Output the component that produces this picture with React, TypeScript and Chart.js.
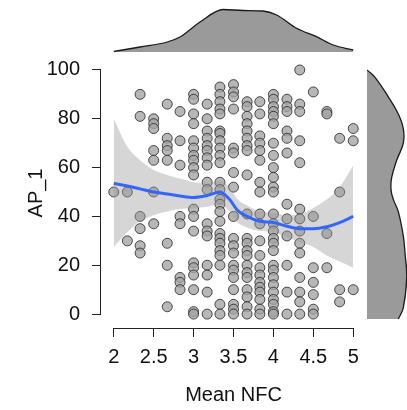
import React, { useEffect, useRef } from "react";
import { Chart, registerables } from "chart.js";

Chart.register(...registerables);

// Mean NFC levels (steps of 1/6) and the AP_1 scores observed at each level
const nfcLevels = [2, 2.17, 2.33, 2.5, 2.67, 2.83, 3, 3.17, 3.33, 3.5, 3.67, 3.83, 4, 4.17, 4.33, 4.5, 4.67, 4.83, 5];
const apAtLevel: number[][] = [
  [50],
  [50, 30],
  [90, 81, 40, 35, 28, 25],
  [80, 78, 76, 67, 63, 50, 37],
  [86, 72, 69, 67, 63, 29, 20, 3],
  [83, 71, 61, 40, 37, 15, 13, 10],
  [90, 88, 82, 78, 71, 68, 65, 63, 60, 57, 43, 40, 34, 21, 19, 16, 10, 1, 0],
  [86, 80, 75, 72, 69, 67, 64, 61, 54, 51, 37, 34, 32, 20, 16, 9, 0],
  [93, 90, 87, 84, 82, 75, 74, 71, 68, 65, 62, 54, 51, 47, 45, 42, 38, 33, 31, 29, 26, 24, 20, 4, 0],
  [94, 91, 89, 84, 68, 66, 58, 52, 40, 31, 28, 25, 20, 18, 15, 10, 4, 2, 0],
  [87, 85, 81, 78, 75, 72, 69, 67, 57, 41, 31, 29, 26, 24, 20, 17, 15, 10, 7, 3, 0],
  [87, 82, 73, 70, 67, 63, 54, 50, 41, 37, 30, 24, 19, 16, 13, 11, 9, 6, 2, 0],
  [90, 88, 85, 83, 81, 78, 70, 65, 60, 56, 52, 50, 41, 37, 34, 31, 29, 26, 20, 18, 15, 12, 9, 6, 4, 1, 0],
  [88, 85, 83, 75, 72, 66, 45, 39, 32, 20, 9, 0],
  [100, 86, 83, 71, 62, 43, 39, 34, 29, 25, 15, 9, 5, 0],
  [91, 40, 19, 13, 8, 2, 0],
  [83, 82, 33, 19],
  [72, 50, 10, 5],
  [76, 71, 10],
];

// Loess fit with its confidence band
const smoothX = [2, 2.17, 2.33, 2.5, 2.67, 2.83, 3, 3.17, 3.33, 3.45, 3.55, 3.67, 3.83, 4, 4.17, 4.33, 4.5, 4.67, 4.83, 5];
const smoothFit = [53.5, 52.5, 51.3, 50, 49.2, 48.4, 47.8, 48.6, 50, 47, 42.5, 40, 38, 37.5, 36, 35, 35, 35.8, 37.5, 40];
const smoothLower = [27.5, 33.5, 38, 40.5, 42, 43, 43.5, 44, 45, 42, 37.5, 35.5, 34, 33.5, 31.5, 29.5, 27.5, 24, 21.5, 19];
const smoothUpper = [80, 68.5, 63, 59, 57, 55.5, 54, 53.5, 54.5, 52, 47, 44.5, 42, 41.5, 40.5, 41, 43.5, 47, 52, 61];

// Marginal density of Mean NFC (top)
const nfcDensX = [2, 2.33, 2.67, 2.83, 3.08, 3.37, 3.62, 3.87, 4.04, 4.29, 4.54, 4.75, 5];
const nfcDensY = [0.005, 0.05, 0.1, 0.15, 0.3, 0.425, 0.415, 0.41, 0.37, 0.237, 0.153, 0.07, 0.02];

// Marginal density of AP_1 (right)
const apDensAP = [100, 97, 89, 82, 76, 70, 63, 56, 51, 47, 42, 32, 25, 15, 2.5, -2];
const apDensY = [0, 0.08, 0.213, 0.313, 0.363, 0.363, 0.297, 0.247, 0.24, 0.263, 0.313, 0.363, 0.38, 0.397, 0.363, 0.313];

const xTicks = [2, 2.5, 3, 3.5, 4, 4.5, 5];
const yTicks = [0, 20, 40, 60, 80, 100];

const W = 407;
const H = 410;
const FONT = "'Liberation Sans', Arial, Helvetica, sans-serif";
const X_MIN = 1.84;
const X_MAX = 5.16;
const Y_MIN = -5.7;
const Y_MAX = 104.9;

// Axis lines that run only between the first and last tick
const rangeAxisLines = {
  id: "rangeAxisLines",
  afterDraw(chart: any) {
    const { ctx, chartArea, scales } = chart;
    const x = scales.x;
    const y = scales.y;
    ctx.save();
    ctx.strokeStyle = "#222";
    ctx.lineWidth = 1;
    ctx.beginPath();
    const yb = Math.round(chartArea.bottom) + 0.5;
    ctx.moveTo(x.getPixelForValue(xTicks[0]), yb);
    ctx.lineTo(x.getPixelForValue(xTicks[xTicks.length - 1]), yb);
    const xl = Math.round(chartArea.left) - 0.5;
    ctx.moveTo(xl, y.getPixelForValue(yTicks[0]));
    ctx.lineTo(xl, y.getPixelForValue(yTicks[yTicks.length - 1]));
    ctx.stroke();
    ctx.restore();
  },
};

const hiddenPlugins = { legend: { display: false }, tooltip: { enabled: false } };

export default function App() {
  const mainRef = useRef<HTMLCanvasElement>(null);
  const topRef = useRef<HTMLCanvasElement>(null);
  const rightRef = useRef<HTMLCanvasElement>(null);

  useEffect(() => {
    const points: { x: number; y: number }[] = [];
    nfcLevels.forEach((lvl, i) => apAtLevel[i].forEach((v) => points.push({ x: lvl, y: v })));
    const xy = (xs: number[], ys: number[]) => xs.map((x, i) => ({ x, y: ys[i] }));

    const main = new Chart(mainRef.current!, {
      type: "scatter",
      data: {
        datasets: [
          {
            type: "line",
            data: xy(smoothX, smoothFit),
            borderColor: "#3366FF",
            borderWidth: 3,
            pointRadius: 0,
            fill: false,
            cubicInterpolationMode: "monotone",
            order: 0,
          } as any,
          {
            type: "line",
            data: xy(smoothX, smoothUpper),
            borderWidth: 0,
            borderColor: "rgba(0,0,0,0)",
            pointRadius: 0,
            fill: "+1",
            backgroundColor: "rgba(153,153,153,0.4)",
            cubicInterpolationMode: "monotone",
            order: 1,
          } as any,
          {
            type: "line",
            data: xy(smoothX, smoothLower),
            borderWidth: 0,
            borderColor: "rgba(0,0,0,0)",
            pointRadius: 0,
            fill: false,
            cubicInterpolationMode: "monotone",
            order: 1,
          } as any,
          {
            data: points,
            pointRadius: 5,
            pointBackgroundColor: "rgba(165,165,165,0.8)",
            pointBorderColor: "rgba(35,35,35,0.8)",
            pointBorderWidth: 1,
            order: 2,
          } as any,
        ],
      },
      options: {
        responsive: false,
        animation: false,
        devicePixelRatio: 1,
        layout: { padding: { left: 0, right: 41, top: 58, bottom: 0 } },
        plugins: hiddenPlugins,
        scales: {
          x: {
            type: "linear",
            min: X_MIN,
            max: X_MAX,
            afterBuildTicks: (s: any) => {
              s.ticks = xTicks.map((v) => ({ value: v }));
            },
            afterFit: (s: any) => {
              s.height = 82;
            },
            ticks: {
              callback: (v: any) => String(v),
              font: { family: FONT, size: 20 },
              color: "#111",
              padding: 8,
              maxRotation: 0,
              autoSkip: false,
            },
            grid: { drawOnChartArea: false, drawTicks: true, tickLength: 9, color: "#222", lineWidth: 1 },
            border: { display: false },
            title: {
              display: true,
              text: "Mean NFC",
              font: { family: FONT, size: 20 },
              color: "#111",
              padding: { top: 0, bottom: 3 },
            },
          },
          y: {
            type: "linear",
            min: Y_MIN,
            max: Y_MAX,
            afterBuildTicks: (s: any) => {
              s.ticks = yTicks.map((v) => ({ value: v }));
            },
            afterFit: (s: any) => {
              s.width = 101;
            },
            ticks: {
              callback: (v: any) => String(v),
              font: { family: FONT, size: 20 },
              color: "#111",
              padding: 12,
              autoSkip: false,
            },
            grid: { drawOnChartArea: false, drawTicks: true, tickLength: 9, color: "#222", lineWidth: 1 },
            border: { display: false },
            title: {
              display: true,
              text: "AP_1",
              font: { family: FONT, size: 20 },
              color: "#111",
              padding: { top: 24, bottom: 0 },
            },
          },
        },
      },
      plugins: [rangeAxisLines],
    } as any);

    const top = new Chart(topRef.current!, {
      type: "line",
      data: {
        datasets: [
          {
            data: xy(nfcDensX, nfcDensY),
            fill: "origin",
            backgroundColor: "#9a9a9a",
            borderColor: "#1a1a1a",
            borderWidth: 1.3,
            pointRadius: 0,
            cubicInterpolationMode: "monotone",
          },
        ],
      },
      options: {
        responsive: false,
        animation: false,
        devicePixelRatio: 1,
        layout: { padding: { left: 101, right: 41, top: 0, bottom: 358 } },
        plugins: hiddenPlugins,
        scales: {
          x: { type: "linear", min: X_MIN, max: X_MAX, display: false },
          y: { type: "linear", min: 0, max: 0.52, display: false },
        },
      },
    } as any);

    const right = new Chart(rightRef.current!, {
      type: "line",
      data: {
        datasets: [
          {
            data: apDensAP.map((a, i) => ({ x: apDensY[i], y: a })),
            fill: "origin",
            backgroundColor: "#9a9a9a",
            borderColor: "#1a1a1a",
            borderWidth: 1.3,
            pointRadius: 0,
            tension: 0.4,
          },
        ],
      },
      options: {
        indexAxis: "y",
        responsive: false,
        animation: false,
        devicePixelRatio: 1,
        layout: { padding: { left: 367, right: 0, top: 58, bottom: 82 } },
        plugins: hiddenPlugins,
        scales: {
          x: { type: "linear", min: 0, max: 0.4, display: false },
          y: { type: "linear", min: Y_MIN, max: Y_MAX, display: false },
        },
      },
    } as any);

    return () => {
      main.destroy();
      top.destroy();
      right.destroy();
    };
  }, []);

  const layer: React.CSSProperties = { position: "absolute", left: 0, top: 0 };
  return (
    <div style={{ position: "absolute", left: 0, top: 0, width: W, height: H, background: "#fff" }}>
      <canvas ref={topRef} width={W} height={H} style={layer} />
      <canvas ref={rightRef} width={W} height={H} style={layer} />
      <canvas ref={mainRef} width={W} height={H} style={layer} />
    </div>
  );
}
